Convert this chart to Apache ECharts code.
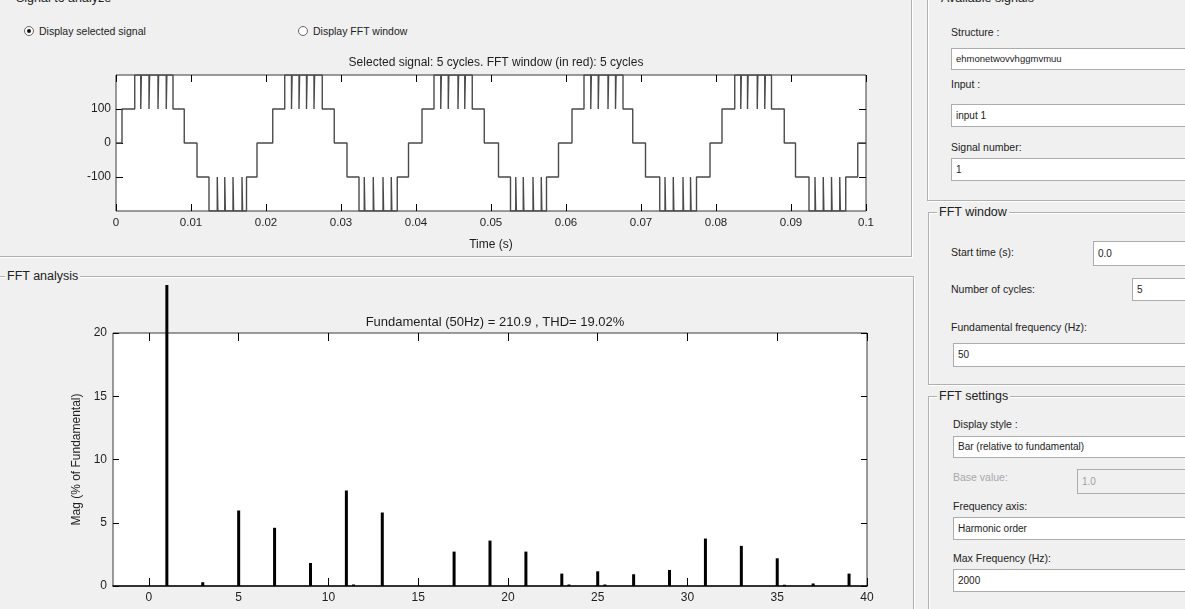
<!DOCTYPE html>
<html>
<head>
<meta charset="utf-8">
<script src="https://cdn.jsdelivr.net/npm/echarts@6/dist/echarts.min.js"></script>
<style>
  html, body { margin: 0; padding: 0; }
  body { width: 1185px; height: 609px; overflow: hidden; background: #f0f0f0; position: relative;
         font-family: "Liberation Sans", Arial, sans-serif; color: #222; }
  .panel { position: absolute; border: 1px solid #b0b0b0; box-shadow: 1px 1px 0 #ffffff inset, 1px 1px 0 #ffffff; }
  .ptitle { position: absolute; background: #f0f0f0; padding: 0 2px; font-size: 12.5px; line-height: 14px; color: #222; white-space: nowrap; }
  .lbl { position: absolute; font-size: 10.5px; line-height: 12px; color: #222; white-space: nowrap; }
  .fld { position: absolute; background: #fff; border: 1px solid #acacac; font-size: 10px; color: #222; box-sizing: border-box; padding-left: 4px; white-space: nowrap; overflow: hidden; }
  .radio { position: absolute; width: 10px; height: 10px; border-radius: 50%; border: 1px solid #666; background: #fff; box-sizing: border-box; }
  .radio.on::after { content: ""; position: absolute; left: 2px; top: 2px; width: 4px; height: 4px; border-radius: 50%; background: #111; }
  #c1 { position: absolute; left: 0; top: 40px; width: 912px; height: 216px; }
  #c2 { position: absolute; left: 0; top: 285px; width: 912px; height: 324px; }
</style>
</head>
<body>
<!-- left panels -->
<div class="panel" style="left:-3px; top:-2px; width:913px; height:257px;"></div>
<div class="ptitle" style="left:14px; top:-9px;">Signal to analyze</div>
<div class="radio on" style="left:24px; top:26px;"></div>
<div class="lbl" style="left:39px; top:25px;">Display selected signal</div>
<div class="radio" style="left:298px; top:26px;"></div>
<div class="lbl" style="left:313px; top:25px;">Display FFT window</div>

<div class="panel" style="left:-3px; top:276px; width:915px; height:400px;"></div>
<div class="ptitle" style="left:5px; top:269px;">FFT analysis</div>

<!-- right panels -->
<div class="panel" style="left:927px; top:-6px; width:300px; height:205px;"></div>
<div class="ptitle" style="left:939px; top:-9px;">Available signals</div>
<div class="lbl" style="left:951px; top:26px;">Structure :</div>
<div class="fld" style="left:951px; top:48px; width:260px; height:22px; line-height:20px; font-size:9.5px;">ehmonetwovvhggmvmuu</div>
<div class="lbl" style="left:951px; top:78px;">Input :</div>
<div class="fld" style="left:951px; top:104px; width:260px; height:23px; line-height:21px;">input 1</div>
<div class="lbl" style="left:951px; top:141px;">Signal number:</div>
<div class="fld" style="left:951px; top:158px; width:260px; height:23px; line-height:21px;">1</div>

<div class="panel" style="left:928px; top:212px; width:300px; height:171px;"></div>
<div class="ptitle" style="left:937px; top:205px;">FFT window</div>
<div class="lbl" style="left:951px; top:246px;">Start time (s):</div>
<div class="fld" style="left:1093px; top:241px; width:120px; height:25px; line-height:23px;">0.0</div>
<div class="lbl" style="left:951px; top:283px;">Number of cycles:</div>
<div class="fld" style="left:1132px; top:278px; width:90px; height:23px; line-height:21px;">5</div>
<div class="lbl" style="left:951px; top:321px;">Fundamental frequency (Hz):</div>
<div class="fld" style="left:953px; top:343px; width:260px; height:24px; line-height:22px;">50</div>

<div class="panel" style="left:928px; top:396px; width:300px; height:300px;"></div>
<div class="ptitle" style="left:937px; top:389px;">FFT settings</div>
<div class="lbl" style="left:953px; top:418px;">Display style :</div>
<div class="fld" style="left:953px; top:436px; width:260px; height:22px; line-height:20px;">Bar (relative to fundamental)</div>
<div class="lbl" style="left:953px; top:471px; color:#a8a8a8;">Base value:</div>
<div class="fld" style="left:1077px; top:469px; width:120px; height:25px; line-height:23px; background:#f0f0f0; color:#a0a0a0;">1.0</div>
<div class="lbl" style="left:953px; top:500px;">Frequency axis:</div>
<div class="fld" style="left:953px; top:517px; width:260px; height:23px; line-height:21px;">Harmonic order</div>
<div class="lbl" style="left:953px; top:552px;">Max Frequency (Hz):</div>
<div class="fld" style="left:953px; top:569px; width:260px; height:23px; line-height:21px;">2000</div>

<div id="c1"></div>
<div id="c2"></div>

<script>
// ---------------- data ----------------
// Staircase signal: switching instants (s) and the level reached after each switch
const edgeTimes = [
  0.0008, 0.0025, 0.0076, 0.0091, 0.0108, 0.0124, 0.0174, 0.0188,
  0.0209, 0.0225, 0.0275, 0.0291, 0.0308, 0.0324, 0.0375, 0.0390,
  0.0408, 0.0424, 0.0475, 0.0491, 0.0510, 0.0526, 0.0574, 0.0590,
  0.0608, 0.0624, 0.0676, 0.0689, 0.0706, 0.0725, 0.0774, 0.0792,
  0.0808, 0.0825, 0.0874, 0.0891, 0.0906, 0.0924, 0.0973, 0.0989
];
const edgeLevels = [
  100, 200, 100, 0, -100, -200, -100, 0,
  100, 200, 100, 0, -100, -200, -100, 0,
  100, 200, 100, 0, -100, -200, -100, 0,
  100, 200, 100, 0, -100, -200, -100, 0,
  100, 200, 100, 0, -100, -200, -100, 0
];
// brief notches back to the +/-100 level while at the +/-200 level
const notchTimes = [
  0.0033, 0.0044, 0.0056, 0.0067,
  0.0135, 0.0145, 0.0156, 0.0168,
  0.0234, 0.0244, 0.0254, 0.0264,
  0.0331, 0.0343, 0.0356, 0.0367,
  0.0433, 0.0443, 0.0456, 0.0465,
  0.0533, 0.0543, 0.0556, 0.0567,
  0.0633, 0.0643, 0.0656, 0.0666,
  0.0732, 0.0743, 0.0756, 0.0766,
  0.0833, 0.0842, 0.0855, 0.0865,
  0.0932, 0.0943, 0.0954, 0.0965
];
const timeTicks = [0, 0.01, 0.02, 0.03, 0.04, 0.05, 0.06, 0.07, 0.08, 0.09, 0.1];
const timeTickLabels = ['0', '0.01', '0.02', '0.03', '0.04', '0.05', '0.06', '0.07', '0.08', '0.09', '0.1'];
const signalTicks = [-100, 0, 100];

// FFT spectrum (% of fundamental) by harmonic order
const harmonicOrder = [1, 3, 5, 7, 9, 11, 11.4, 13, 17, 19, 21, 23, 23.4, 25, 25.4, 27, 29, 31, 33, 35, 35.4, 37, 39];
const magPercent   = [100, 0.3, 5.97, 4.6, 1.82, 7.55, 0.12, 5.81, 2.72, 3.59, 2.72, 0.98, 0.12, 1.16, 0.12, 0.93, 1.27, 3.75, 3.17, 2.19, 0.1, 0.2, 0.98];
const harmonicTicks = [0, 5, 10, 15, 20, 25, 30, 35, 40];
const magTicks = [0, 5, 10, 15, 20];

const topTitle = 'Selected signal: 5 cycles. FFT window (in red): 5 cycles';
const fftTitle = 'Fundamental (50Hz) = 210.9 , THD= 19.02%';

// ---------------- build signal polyline from the switching data ----------------
const NOTCH_W = 0.00008;
function buildSignal() {
  const ev = [];
  edgeTimes.forEach((t, i) => ev.push({ t: t, v: edgeLevels[i], notch: false }));
  notchTimes.forEach(t => ev.push({ t: t, notch: true }));
  ev.sort((a, b) => a.t - b.t);
  let level = 0;
  const pts = [[0, 0]];
  ev.forEach(e => {
    if (e.notch) {
      const nv = level > 0 ? 100 : -100;
      pts.push([e.t, level], [e.t, nv], [e.t + NOTCH_W, nv], [e.t + NOTCH_W, level]);
    } else {
      pts.push([e.t, level], [e.t, e.v]);
      level = e.v;
    }
  });
  pts.push([0.1, level]);
  return pts;
}

const FONT = 'Liberation Sans';
const TXT = '#1e1e1e';
const noLine = { show: false, onZero: false };
const boxTick = (vals, len) => ({ show: true, inside: true, length: len, customValues: vals, lineStyle: { color: '#000', width: 1 } });

// ---------------- top chart ----------------
const c1 = echarts.init(document.getElementById('c1'), null, { renderer: 'canvas' });
c1.setOption({
  animation: false,
  backgroundColor: 'transparent',
  title: { text: topTitle, left: 491, top: 12, textAlign: 'center',
           textStyle: { fontFamily: FONT, fontSize: 12, fontWeight: 'normal', color: TXT } },
  grid: { left: 116, right: 46, top: 35, bottom: 44, show: true, backgroundColor: '#ffffff', borderColor: '#3a3a3a', borderWidth: 1 },
  xAxis: [
    { type: 'value', min: 0, max: 0.1, position: 'bottom',
      name: 'Time (s)', nameLocation: 'middle', nameGap: 28,
      nameTextStyle: { fontFamily: FONT, fontSize: 12, color: TXT },
      axisLine: noLine, splitLine: { show: false },
      axisTick: boxTick(timeTicks, 7),
      axisLabel: { customValues: timeTicks, margin: 6, fontFamily: FONT, fontSize: 11.5, color: TXT,
                   formatter: v => timeTickLabels[Math.round(v / 0.01)] } },
    { type: 'value', min: 0, max: 0.1, position: 'top',
      axisLine: noLine, splitLine: { show: false },
      axisTick: boxTick(timeTicks, 7), axisLabel: { show: false } }
  ],
  yAxis: [
    { type: 'value', min: -200, max: 200, position: 'left',
      axisLine: noLine, splitLine: { show: false },
      axisTick: boxTick(signalTicks, 7),
      axisLabel: { customValues: signalTicks, margin: 5, fontFamily: FONT, fontSize: 12, color: TXT } },
    { type: 'value', min: -200, max: 200, position: 'right',
      axisLine: noLine, splitLine: { show: false },
      axisTick: boxTick(signalTicks, 7), axisLabel: { show: false } }
  ],
  series: [{
    type: 'line', data: buildSignal(), showSymbol: false, clip: true,
    lineStyle: { color: '#4a4a4a', width: 1.4 }
  }]
});

// ---------------- bottom chart ----------------
const c2 = echarts.init(document.getElementById('c2'), null, { renderer: 'canvas' });
c2.setOption({
  animation: false,
  backgroundColor: 'transparent',
  title: { text: fftTitle, left: 490, top: 26, textAlign: 'center',
           textStyle: { fontFamily: FONT, fontSize: 13, fontWeight: 'normal', color: TXT } },
  grid: { left: 113, right: 45, top: 48, bottom: 23, show: true, backgroundColor: '#ffffff', borderColor: '#3a3a3a', borderWidth: 1 },
  xAxis: [
    { type: 'value', min: -2, max: 40, position: 'bottom',
      axisLine: { show: true, onZero: false, lineStyle: { color: '#111', width: 1.6 } }, splitLine: { show: false },
      axisTick: boxTick(harmonicTicks, 8),
      axisLabel: { customValues: harmonicTicks, margin: 6, fontFamily: FONT, fontSize: 12, color: TXT } },
    { type: 'value', min: -2, max: 40, position: 'top',
      axisLine: noLine, splitLine: { show: false },
      axisTick: boxTick(harmonicTicks, 8), axisLabel: { show: false } }
  ],
  yAxis: [
    { type: 'value', min: 0, max: 20, position: 'left',
      name: 'Mag (% of Fundamental)', nameLocation: 'middle', nameGap: 24,
      nameTextStyle: { fontFamily: FONT, fontSize: 12, color: TXT },
      axisLine: noLine, splitLine: { show: false },
      axisTick: boxTick(magTicks, 6),
      axisLabel: { customValues: magTicks, margin: 6, fontFamily: FONT, fontSize: 12, color: TXT } },
    { type: 'value', min: 0, max: 20, position: 'right',
      axisLine: noLine, splitLine: { show: false },
      axisTick: boxTick(magTicks, 6), axisLabel: { show: false } }
  ],
  series: [{
    type: 'bar', clip: false, barWidth: 3,
    data: harmonicOrder.map((h, i) => [h, magPercent[i]]),
    itemStyle: { color: '#000' }
  }]
});
</script>
</body>
</html>
